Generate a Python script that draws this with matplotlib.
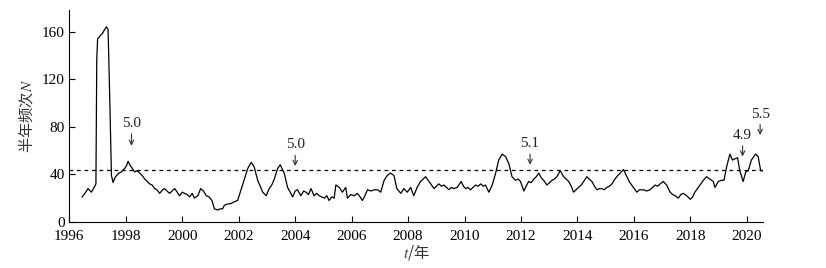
#!/usr/bin/env python3
"""Half-year event frequency N time series, 1996-2020."""

import matplotlib

matplotlib.use("Agg")
import matplotlib.pyplot as plt

plt.rcParams["mathtext.fontset"] = "stix"

# values (year, N)
years = [
    1996.45, 1996.55, 1996.66, 1996.78, 1996.90, 1996.94, 1996.97, 1997.00, 1997.05, 1997.10,
    1997.16, 1997.23, 1997.31, 1997.37, 1997.43, 1997.49, 1997.55, 1997.61, 1997.67, 1997.75,
    1997.84, 1997.96, 1998.02, 1998.08, 1998.14, 1998.20, 1998.31, 1998.40, 1998.49, 1998.58,
    1998.67, 1998.76, 1998.84, 1998.93, 1999.02, 1999.10, 1999.20, 1999.30, 1999.37, 1999.46,
    1999.55, 1999.64, 1999.73, 1999.82, 1999.90, 2000.00, 2000.08, 2000.17, 2000.26, 2000.35,
    2000.43, 2000.55, 2000.65, 2000.75, 2000.85, 2000.95, 2001.05, 2001.14, 2001.25, 2001.35,
    2001.43, 2001.49, 2001.60, 2001.73, 2001.85, 2001.96, 2002.08, 2002.20, 2002.32, 2002.44,
    2002.50, 2002.55, 2002.67, 2002.76, 2002.85, 2002.97, 2003.08, 2003.17, 2003.26, 2003.38,
    2003.47, 2003.55, 2003.61, 2003.73, 2003.82, 2003.91, 2004.00, 2004.08, 2004.20, 2004.30,
    2004.38, 2004.47, 2004.56, 2004.67, 2004.76, 2004.85, 2004.94, 2005.03, 2005.12, 2005.20,
    2005.30, 2005.38, 2005.44, 2005.56, 2005.67, 2005.79, 2005.85, 2005.97, 2006.09, 2006.20,
    2006.30, 2006.38, 2006.47, 2006.56, 2006.68, 2006.80, 2006.92, 2007.03, 2007.15, 2007.26,
    2007.38, 2007.50, 2007.60, 2007.67, 2007.74, 2007.85, 2007.97, 2008.09, 2008.20, 2008.32,
    2008.44, 2008.53, 2008.62, 2008.74, 2008.83, 2008.92, 2009.00, 2009.09, 2009.18, 2009.27,
    2009.36, 2009.45, 2009.53, 2009.62, 2009.74, 2009.88, 2009.96, 2010.04, 2010.12, 2010.21,
    2010.30, 2010.39, 2010.48, 2010.57, 2010.66, 2010.74, 2010.86, 2010.98, 2011.10, 2011.21,
    2011.33, 2011.45, 2011.57, 2011.68, 2011.80, 2011.90, 2011.98, 2012.10, 2012.18, 2012.27,
    2012.36, 2012.45, 2012.54, 2012.63, 2012.72, 2012.80, 2012.92, 2013.01, 2013.10, 2013.18,
    2013.27, 2013.39, 2013.51, 2013.60, 2013.69, 2013.78, 2013.86, 2013.95, 2014.04, 2014.13,
    2014.22, 2014.33, 2014.42, 2014.51, 2014.60, 2014.69, 2014.78, 2014.86, 2014.95, 2015.04,
    2015.13, 2015.22, 2015.30, 2015.39, 2015.51, 2015.63, 2015.75, 2015.83, 2015.92, 2016.01,
    2016.10, 2016.20, 2016.34, 2016.45, 2016.57, 2016.66, 2016.75, 2016.84, 2016.93, 2017.04,
    2017.16, 2017.28, 2017.37, 2017.46, 2017.57, 2017.66, 2017.75, 2017.87, 2018.00, 2018.08,
    2018.16, 2018.25, 2018.34, 2018.46, 2018.57, 2018.69, 2018.81, 2018.87, 2018.99, 2019.10,
    2019.19, 2019.28, 2019.40, 2019.49, 2019.57, 2019.67, 2019.75, 2019.87, 2019.96, 2020.05,
    2020.16, 2020.31, 2020.40, 2020.49, 2020.56,
]
freq = [
    21, 24, 28, 25, 30, 32, 137, 154, 155, 157,
    158, 161, 164, 162, 104, 39, 33, 37, 39, 41,
    42, 45, 47, 51, 48, 46, 42, 43, 41, 39,
    36, 34, 32, 31, 28, 27, 24, 27, 28, 26,
    24, 26, 28, 25, 22, 25, 24, 23, 21, 24,
    20, 22, 28, 26, 22, 21, 18, 11, 10, 11,
    11, 14, 15, 15.5, 17, 18, 27, 36, 45, 50,
    48, 46, 35, 30, 25, 22, 28, 31, 36, 45,
    48, 44, 41, 29, 25, 21, 26, 27, 22, 26,
    25, 23, 28, 22, 24, 22, 21, 20, 22, 18,
    21, 20, 31, 29, 25, 29, 20, 23, 22, 24,
    21, 18, 22, 27, 26, 27, 27, 25, 35, 39,
    41, 39, 28, 26, 24, 28, 25, 29, 22, 29,
    34, 36, 38, 34, 31, 28, 30, 32, 30, 31,
    29, 27, 29, 28, 29, 34, 30, 28, 29, 27,
    29, 31, 30, 32, 30, 31, 25, 31, 41, 52,
    57, 55, 49, 38, 35, 36, 34, 26, 30, 34,
    33, 36, 38, 41, 37, 35, 31, 33, 35, 36,
    38, 43, 38, 36, 34, 30, 25, 27, 29, 31,
    34, 38, 36, 34, 30, 27, 28, 28, 27, 29,
    30, 32, 35, 38, 41, 44, 38, 34, 31, 28,
    25, 27, 27, 26, 27, 29, 31, 30, 32, 34,
    31, 25, 23, 22, 20, 23, 24, 22, 19, 21,
    25, 28, 31, 35, 38, 36, 34, 29, 34, 35,
    35, 46, 57, 52, 53, 54, 43, 34, 42, 43,
    52, 57, 55, 43, 43,
]

labels = ["5.0", "5.0", "5.1", "4.9", "5.5"]
label_years = [1998.2, 2004.0, 2012.32, 2019.85, 2020.47]
label_text_y = [83, 65, 66, 73, 90]
arrow_top = [74, 56, 57, 64, 82]
arrow_tip = [64, 47, 48, 55, 73]

threshold = 44

fig = plt.figure(figsize=(8.26, 2.68), dpi=100)
ax = fig.add_axes([0.084, 0.172, 0.84, 0.79])

ax.plot(years, freq, color="black", linewidth=0.9)
ax.axhline(threshold, color="black", linewidth=0.9, linestyle=(0, (3, 3)))

for lab, x, ty, a0, a1 in zip(labels, label_years, label_text_y, arrow_top, arrow_tip):
    ax.text(x, ty, lab, ha="center", va="center", fontsize=11,
            family="Liberation Serif", color="#222222")
    ax.annotate("", xy=(x, a1), xytext=(x, a0),
                arrowprops=dict(arrowstyle="->", color="#333333", lw=0.8,
                                shrinkA=0, shrinkB=0, mutation_scale=8))

ax.set_xlim(1996, 2020.58)
ax.set_ylim(0, 178)
ax.set_xticks(range(1996, 2021, 2))
ax.set_yticks([0, 40, 80, 120, 160])
ax.spines["top"].set_visible(False)
ax.spines["right"].set_visible(False)
ax.tick_params(direction="in", length=4, width=0.8, labelsize=11)
ax.tick_params(axis="x", pad=6)
for t in ax.get_xticklabels() + ax.get_yticklabels():
    t.set_family("Liberation Serif")

ax.set_ylabel("半年频次$N$", family=["Noto Sans CJK SC", "DejaVu Sans"],
              fontsize=11, color="#333333", labelpad=4)
ax.set_xlabel("$t$/年", family=["Noto Sans CJK SC", "DejaVu Sans"],
              fontsize=11, color="#333333", labelpad=0)

fig.savefig("out.png", dpi=100)
